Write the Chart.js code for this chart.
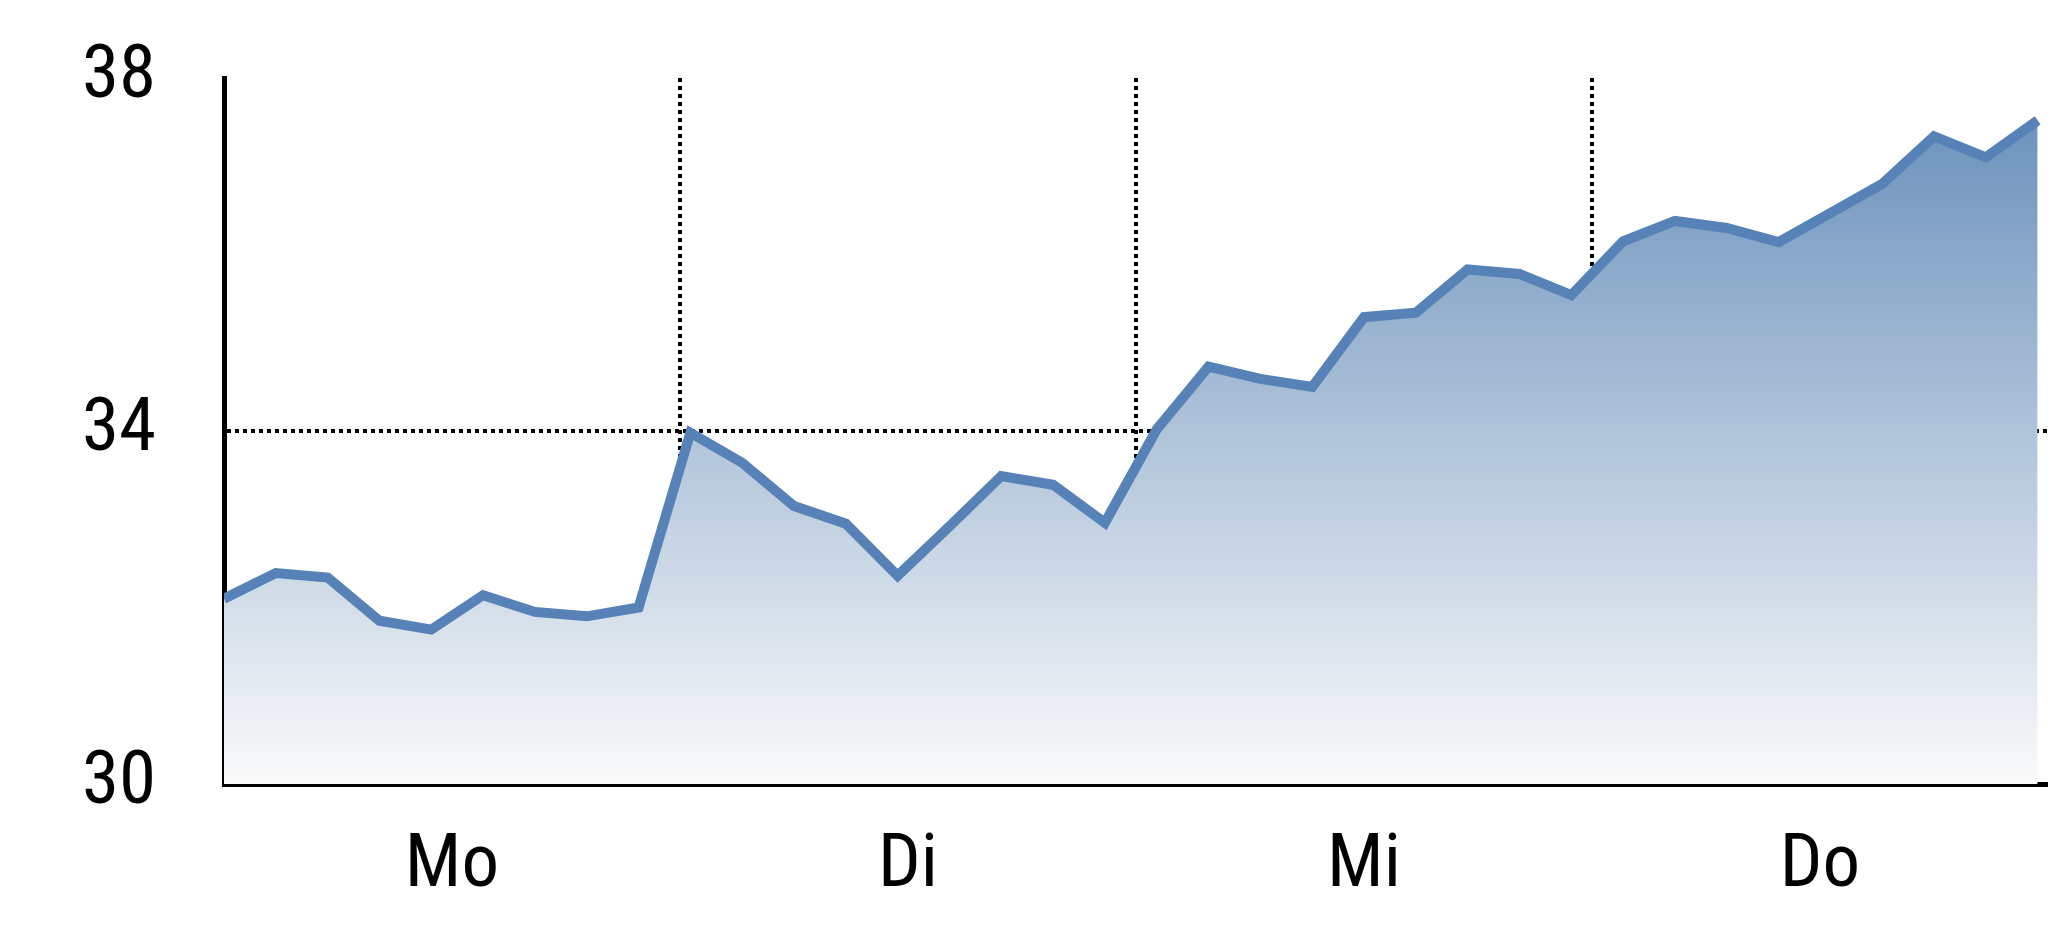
<!DOCTYPE html>
<html>
<head>
<meta charset="utf-8">
<script src="https://cdn.jsdelivr.net/npm/chart.js@4"></script>
<style>
    html, body { margin: 0; padding: 0; background: #fff; }
    #wrap { width: 2048px; height: 937px; }
</style>
</head>
<body>
<div id="wrap"><canvas id="kurs" width="2048" height="937"></canvas></div>
<script>
// Tage auf der x-Achse, Messpunkte pro Tag (Abstand der Trennlinien in Messpunkten)
const dayLabels = ["Mo", "Di", "Mi", "Do"];
const samplesPerDay = 8.8;

// Kurswerte, einer pro Messpunkt
const prices = [
    32.10, 32.39, 32.34, 31.85, 31.75, 32.14, 31.95, 31.90, 32.00,
    33.98, 33.64, 33.15, 32.95, 32.36, 32.92, 33.49, 33.39, 32.96,
    34.02, 34.73, 34.59, 34.50, 35.29, 35.34, 35.83, 35.78, 35.54,
    36.15, 36.38, 36.30, 36.14, 36.47, 36.80, 37.34, 37.10, 37.52
];

// y-Achse
const yMin = 30;
const yMax = 38;
const yStep = 4;
const yGridValues = [34];

document.addEventListener("DOMContentLoaded", () => {
    const ctx = document.getElementById("kurs").getContext("2d");

    const points = prices.map((p, i) => ({ x: i, y: p }));
    const xMax = dayLabels.length * samplesPerDay;
    const dayCenters = dayLabels.map((d, i) => (i + 0.5) * samplesPerDay);
    const dayBounds = dayLabels.slice(1).map((d, i) => (i + 1) * samplesPerDay);

    const isNear = (a, b) => Math.abs(a - b) < 1e-6;
    const font = { family: "'Liberation Sans Narrow', 'Roboto Condensed', 'Liberation Sans', sans-serif", size: 75 };

    function fillGradient(context) {
        const area = context.chart.chartArea;
        if (!area) return "rgba(120,150,190,0.5)";
        const g = context.chart.ctx.createLinearGradient(0, area.top, 0, area.bottom);
        g.addColorStop(0, "rgb(100,140,185)");
        g.addColorStop(1, "rgb(250,250,250)");
        return g;
    }

    new Chart(ctx, {
        type: "line",
        data: {
            datasets: [{
                data: points,
                borderColor: "#5682b8",
                borderWidth: 10,
                backgroundColor: fillGradient,
                fill: "start",
                pointRadius: 0,
                tension: 0
            }]
        },
        options: {
            responsive: false,
            animation: false,
            devicePixelRatio: 1,
            layout: { padding: { top: 78, right: 0, bottom: 0, left: 82 } },
            plugins: { legend: { display: false }, tooltip: { enabled: false } },
            scales: {
                x: {
                    type: "linear",
                    min: 0,
                    max: xMax,
                    z: 1,
                    afterBuildTicks: (scale) => {
                        scale.ticks = dayCenters.concat(dayBounds)
                            .sort((a, b) => a - b)
                            .map(v => ({ value: v }));
                    },
                    afterFit: (scale) => { scale.height = 153; },
                    grid: {
                        drawTicks: false,
                        lineWidth: 4,
                        color: (c) => (c.tick && dayBounds.some(b => isNear(b, c.tick.value))) ? "#000" : "rgba(0,0,0,0)"
                    },
                    border: { display: true, color: "#000", width: 5, dash: [4, 4] },
                    ticks: {
                        autoSkip: false,
                        maxRotation: 0,
                        padding: 38,
                        color: "#000",
                        font: font,
                        callback: (value) => {
                            const i = dayCenters.findIndex(c => isNear(c, value));
                            return i >= 0 ? dayLabels[i] : "";
                        }
                    }
                },
                y: {
                    min: yMin,
                    max: yMax,
                    z: 1,
                    afterFit: (scale) => { scale.width = 142; },
                    grid: {
                        drawTicks: false,
                        lineWidth: 4,
                        color: (c) => (c.tick && yGridValues.includes(c.tick.value)) ? "#000" : "rgba(0,0,0,0)"
                    },
                    border: { display: true, color: "#000", width: 5, dash: [4, 4] },
                    ticks: {
                        stepSize: yStep,
                        padding: 0,
                        crossAlign: "far",
                        color: "#000",
                        font: font
                    }
                }
            }
        }
    });
});
</script>
</body>
</html>
